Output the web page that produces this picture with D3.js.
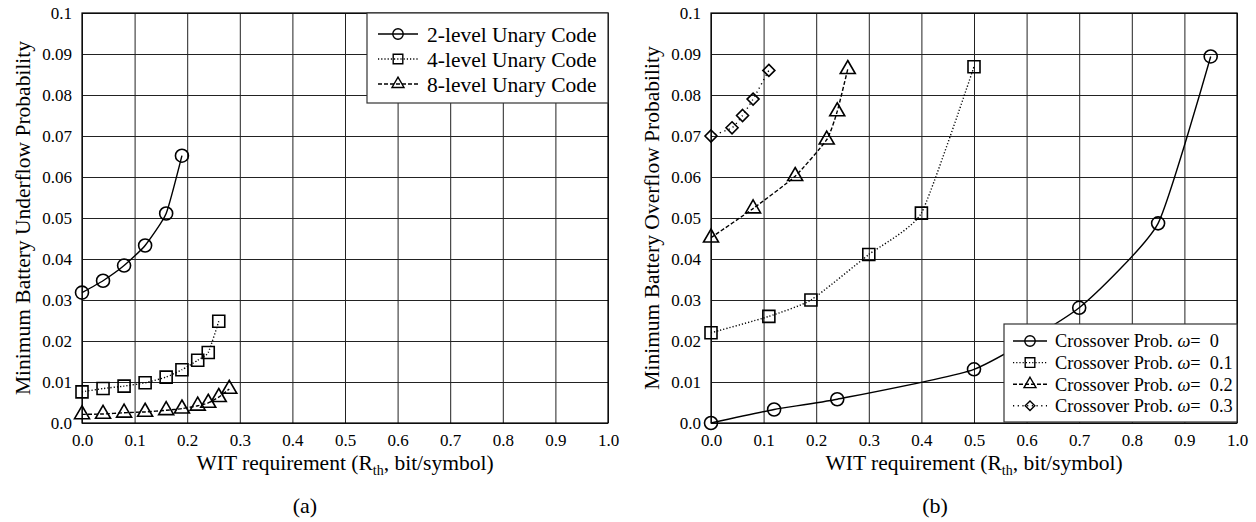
<!DOCTYPE html>
<html>
<head>
<meta charset="utf-8">
<style>
  body { margin: 0; background: #fff; }
  svg text { font-family: "Liberation Serif", "Times New Roman", serif; fill: #000; }
</style>
</head>
<body>
<div id="chart"></div>
<script src="https://cdnjs.cloudflare.com/ajax/libs/d3/7.8.5/d3.min.js"></script>
<script>
// ---- data ----
const xTicks = [0, 0.1, 0.2, 0.3, 0.4, 0.5, 0.6, 0.7, 0.8, 0.9, 1.0];
const yTicks = [0, 0.01, 0.02, 0.03, 0.04, 0.05, 0.06, 0.07, 0.08, 0.09, 0.1];

// (a) underflow
const x2lvl = [0, 0.04, 0.08, 0.12, 0.16, 0.19];
const y2lvl = [0.0318, 0.0347, 0.0384, 0.0433, 0.0511, 0.0652];
const x4lvl = [0, 0.04, 0.08, 0.12, 0.16, 0.19, 0.22, 0.24, 0.26];
const y4lvl = [0.0076, 0.0084, 0.009, 0.0098, 0.0112, 0.013, 0.0153, 0.0172, 0.0248];
const x8lvl = [0, 0.04, 0.08, 0.12, 0.16, 0.19, 0.22, 0.24, 0.26, 0.28];
const y8lvl = [0.0021, 0.0022, 0.0025, 0.0027, 0.0031, 0.0035, 0.0042, 0.0049, 0.0063, 0.0083];

// (b) overflow
const xW0 = [0, 0.12, 0.24, 0.5, 0.7, 0.85, 0.95];
const yW0 = [0, 0.0033, 0.0058, 0.0131, 0.0281, 0.0487, 0.0894];
const xW1 = [0, 0.11, 0.19, 0.3, 0.4, 0.5];
const yW1 = [0.022, 0.026, 0.030, 0.0411, 0.0512, 0.0869];
const xW2 = [0, 0.08, 0.16, 0.22, 0.24, 0.26];
const yW2 = [0.0452, 0.0523, 0.0602, 0.0691, 0.076, 0.0863];
const xW3 = [0, 0.04, 0.06, 0.08, 0.11];
const yW3 = [0.07, 0.072, 0.075, 0.079, 0.086];

const namesA = ["2-level Unary Code", "4-level Unary Code", "8-level Unary Code"];
const omegas = ["0", "0.1", "0.2", "0.3"];

const W = 1256, H = 522;
const svg = d3.select("#chart").append("svg")
    .attr("width", W).attr("height", H);

// line styles
const SOLID = null, DOTTED = "1.2,2", DASHED = "4,2", SPARSE = "1.2,3.5";

function markerPath(shape, s) {
    // s = overall size in px
    if (shape === "circle") return d3.symbol(d3.symbolCircle, Math.PI * (s / 2) * (s / 2))();
    if (shape === "square") return d3.symbol(d3.symbolSquare, s * s)();
    if (shape === "triangle") return d3.symbol(d3.symbolTriangle, s * s * 0.433)();
    if (shape === "diamond") {
        const h = s / 2;
        return `M0,${-h}L${h},0L0,${h}L${-h},0Z`;
    }
}

function panel(opt) {
    const x = d3.scaleLinear().domain([0, 1]).range([opt.x0, opt.x1]);
    const y = d3.scaleLinear().domain([0, 0.1]).range([opt.y1, opt.y0]);
    const g = svg.append("g");

    // grid via axes
    g.append("g")
        .attr("transform", `translate(0,${opt.y1})`)
        .call(d3.axisBottom(x).tickValues(xTicks).tickSize(-(opt.y1 - opt.y0))
            .tickPadding(8).tickFormat(d3.format(".1f")))
        .call(a => a.select(".domain").remove())
        .call(a => a.selectAll("line").attr("stroke", "#222"))
        .call(a => a.selectAll("text").attr("font-size", 17).attr("dy", "0.9em")
            .style("font-family", "Liberation Serif"));

    g.append("g")
        .attr("transform", `translate(${opt.x0},0)`)
        .call(d3.axisLeft(y).tickValues(yTicks).tickSize(-(opt.x1 - opt.x0))
            .tickPadding(10)
            .tickFormat(v => v === 0 ? "0.0" : (Math.abs(v - 0.1) < 1e-9 ? "0.1" : d3.format(".2f")(v))))
        .call(a => a.select(".domain").remove())
        .call(a => a.selectAll("line").attr("stroke", "#222"))
        .call(a => a.selectAll("text").attr("font-size", 17)
            .style("font-family", "Liberation Serif"));

    g.append("rect")
        .attr("x", opt.x0).attr("y", opt.y0)
        .attr("width", opt.x1 - opt.x0).attr("height", opt.y1 - opt.y0)
        .attr("fill", "none").attr("stroke", "#000").attr("stroke-width", 1.2);

    const line = d3.line().x(d => x(d[0])).y(d => y(d[1])).curve(d3.curveCardinal.tension(0.5));

    opt.series.forEach(s => {
        const pts = s.xs.map((v, i) => [v, s.ys[i]]);
        g.append("path").datum(pts)
            .attr("d", line)
            .attr("fill", "none").attr("stroke", "#000").attr("stroke-width", 1.4)
            .attr("stroke-dasharray", s.dash);
        g.selectAll(null).data(pts).enter().append("path")
            .attr("d", markerPath(s.shape, s.size))
            .attr("transform", d => `translate(${x(d[0])},${y(d[1])})`)
            .attr("fill", "none").attr("stroke", "#000").attr("stroke-width", 1.6);
    });

    // axis titles
    g.append("text")
        .attr("x", (opt.x0 + opt.x1) / 2).attr("y", 470)
        .attr("text-anchor", "middle").attr("font-size", 21.5)
        .call(t => {
            t.append("tspan").text("WIT requirement (R");
            t.append("tspan").attr("font-size", 14).attr("dy", 5).text("th");
            t.append("tspan").attr("dy", -5).text(", bit/symbol)");
        });
    g.append("text")
        .attr("transform", `translate(${opt.ytx},${(opt.y0 + opt.y1) / 2}) rotate(-90)`)
        .attr("text-anchor", "middle").attr("font-size", 21.5)
        .text(opt.ytitle);
    g.append("text")
        .attr("x", opt.capX).attr("y", 513)
        .attr("text-anchor", "middle").attr("font-size", 22)
        .text(opt.caption);

    // legend
    const L = opt.legend;
    g.append("rect")
        .attr("x", L.x).attr("y", L.y).attr("width", L.w).attr("height", L.h)
        .attr("fill", "#fff").attr("stroke", "#333").attr("stroke-width", 1.2);
    opt.series.forEach((s, i) => {
        const cy = L.y + L.first + i * L.step;
        g.append("line")
            .attr("x1", L.lx0).attr("x2", L.lx1).attr("y1", cy).attr("y2", cy)
            .attr("stroke", "#000").attr("stroke-width", 1.4)
            .attr("stroke-dasharray", s.dash);
        g.append("path")
            .attr("d", markerPath(s.shape, s.size * 0.8))
            .attr("transform", `translate(${(L.lx0 + L.lx1) / 2},${cy})`)
            .attr("fill", "none").attr("stroke", "#000").attr("stroke-width", 1.4);
        const t = g.append("text")
            .attr("x", L.tx).attr("y", cy).attr("dy", "0.35em")
            .attr("font-size", L.fs);
        opt.label(t, i);
    });
}

panel({
    x0: 82, x1: 608, y0: 13, y1: 423, ytx: 30, capX: 305, caption: "(a)",
    ytitle: "Minimum Battery Underflow Probability",
    series: [
        { xs: x2lvl, ys: y2lvl, shape: "circle", size: 13, dash: SOLID },
        { xs: x4lvl, ys: y4lvl, shape: "square", size: 12, dash: DOTTED },
        { xs: x8lvl, ys: y8lvl, shape: "triangle", size: 15, dash: DASHED }
    ],
    legend: { x: 367, y: 13, w: 241, h: 90, first: 21, step: 25, lx0: 378, lx1: 418, tx: 427, fs: 21.5 },
    label: (t, i) => t.text(namesA[i])
});

panel({
    x0: 711, x1: 1237, y0: 13, y1: 423, ytx: 659, capX: 935, caption: "(b)",
    ytitle: "Minimum Battery Overflow Probability",
    series: [
        { xs: xW0, ys: yW0, shape: "circle", size: 13, dash: SOLID },
        { xs: xW1, ys: yW1, shape: "square", size: 12, dash: DOTTED },
        { xs: xW2, ys: yW2, shape: "triangle", size: 15, dash: DASHED },
        { xs: xW3, ys: yW3, shape: "diamond", size: 12, dash: SPARSE }
    ],
    legend: { x: 1004, y: 324, w: 233, h: 98, first: 17, step: 21.6, lx0: 1013, lx1: 1047, tx: 1055, fs: 18.3 },
    label: (t, i) => {
        t.append("tspan").text("Crossover Prob. ");
        t.append("tspan").attr("font-style", "italic").text("\u03c9");
        t.append("tspan").text("=\u00a0\u00a0" + omegas[i]);
    }
});
</script>
</body>
</html>
